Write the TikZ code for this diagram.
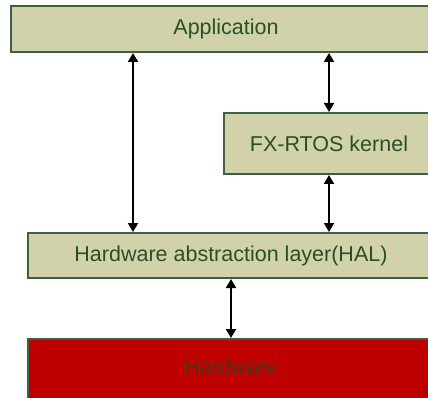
\documentclass[tikz,border=0pt]{standalone}
\usepackage{fontspec}
\setmainfont{Liberation Sans}
\usetikzlibrary{arrows.meta}
\definecolor{layerfill}{RGB}{210,210,170}
\definecolor{layerline}{RGB}{65,95,65}
\definecolor{layertext}{RGB}{40,80,40}
\definecolor{hwfill}{RGB}{190,0,0}
\definecolor{hwtext}{RGB}{70,55,25}
\tikzset{
  layer/.style={draw=layerline, fill=layerfill, line width=2pt, text=layertext,
    anchor=north west, inner sep=0pt, font=\fontsize{21.5}{24}\selectfont},
  hwlayer/.style={layer, fill=hwfill, text=hwtext},
  link/.style={{Triangle[width=10pt,length=9pt]}-{Triangle[width=10pt,length=9pt]}, line width=2pt, black}
}
\begin{document}
\begin{tikzpicture}[x=1pt,y=-1pt]
\useasboundingbox (0,0) rectangle (428,398);
\clip (0,0) rectangle (428,398);
% layers
\node[layer, minimum width=430pt, minimum height=46pt] (app) at (10,5) {Application};
\node[layer, minimum width=210pt, minimum height=61pt] (kernel) at (223,112) {FX-RTOS kernel};
\node[layer, minimum width=406pt, minimum height=45pt] (hal) at (27,232) {Hardware abstraction layer(HAL)};
\node[hwlayer, minimum width=406pt, minimum height=66pt, text depth=10pt] (hw) at (27,338) {Hardware};
% links
\coordinate (leftlink) at (133,0);
\draw[link] (app.south -| leftlink) -- (hal.north -| leftlink);
\draw[link] (app.south -| kernel.north) -- (kernel.north);
\draw[link] (kernel.south) -- (hal.north -| kernel.south);
\draw[link] (hal.south) -- (hw.north);
\end{tikzpicture}
\end{document}
